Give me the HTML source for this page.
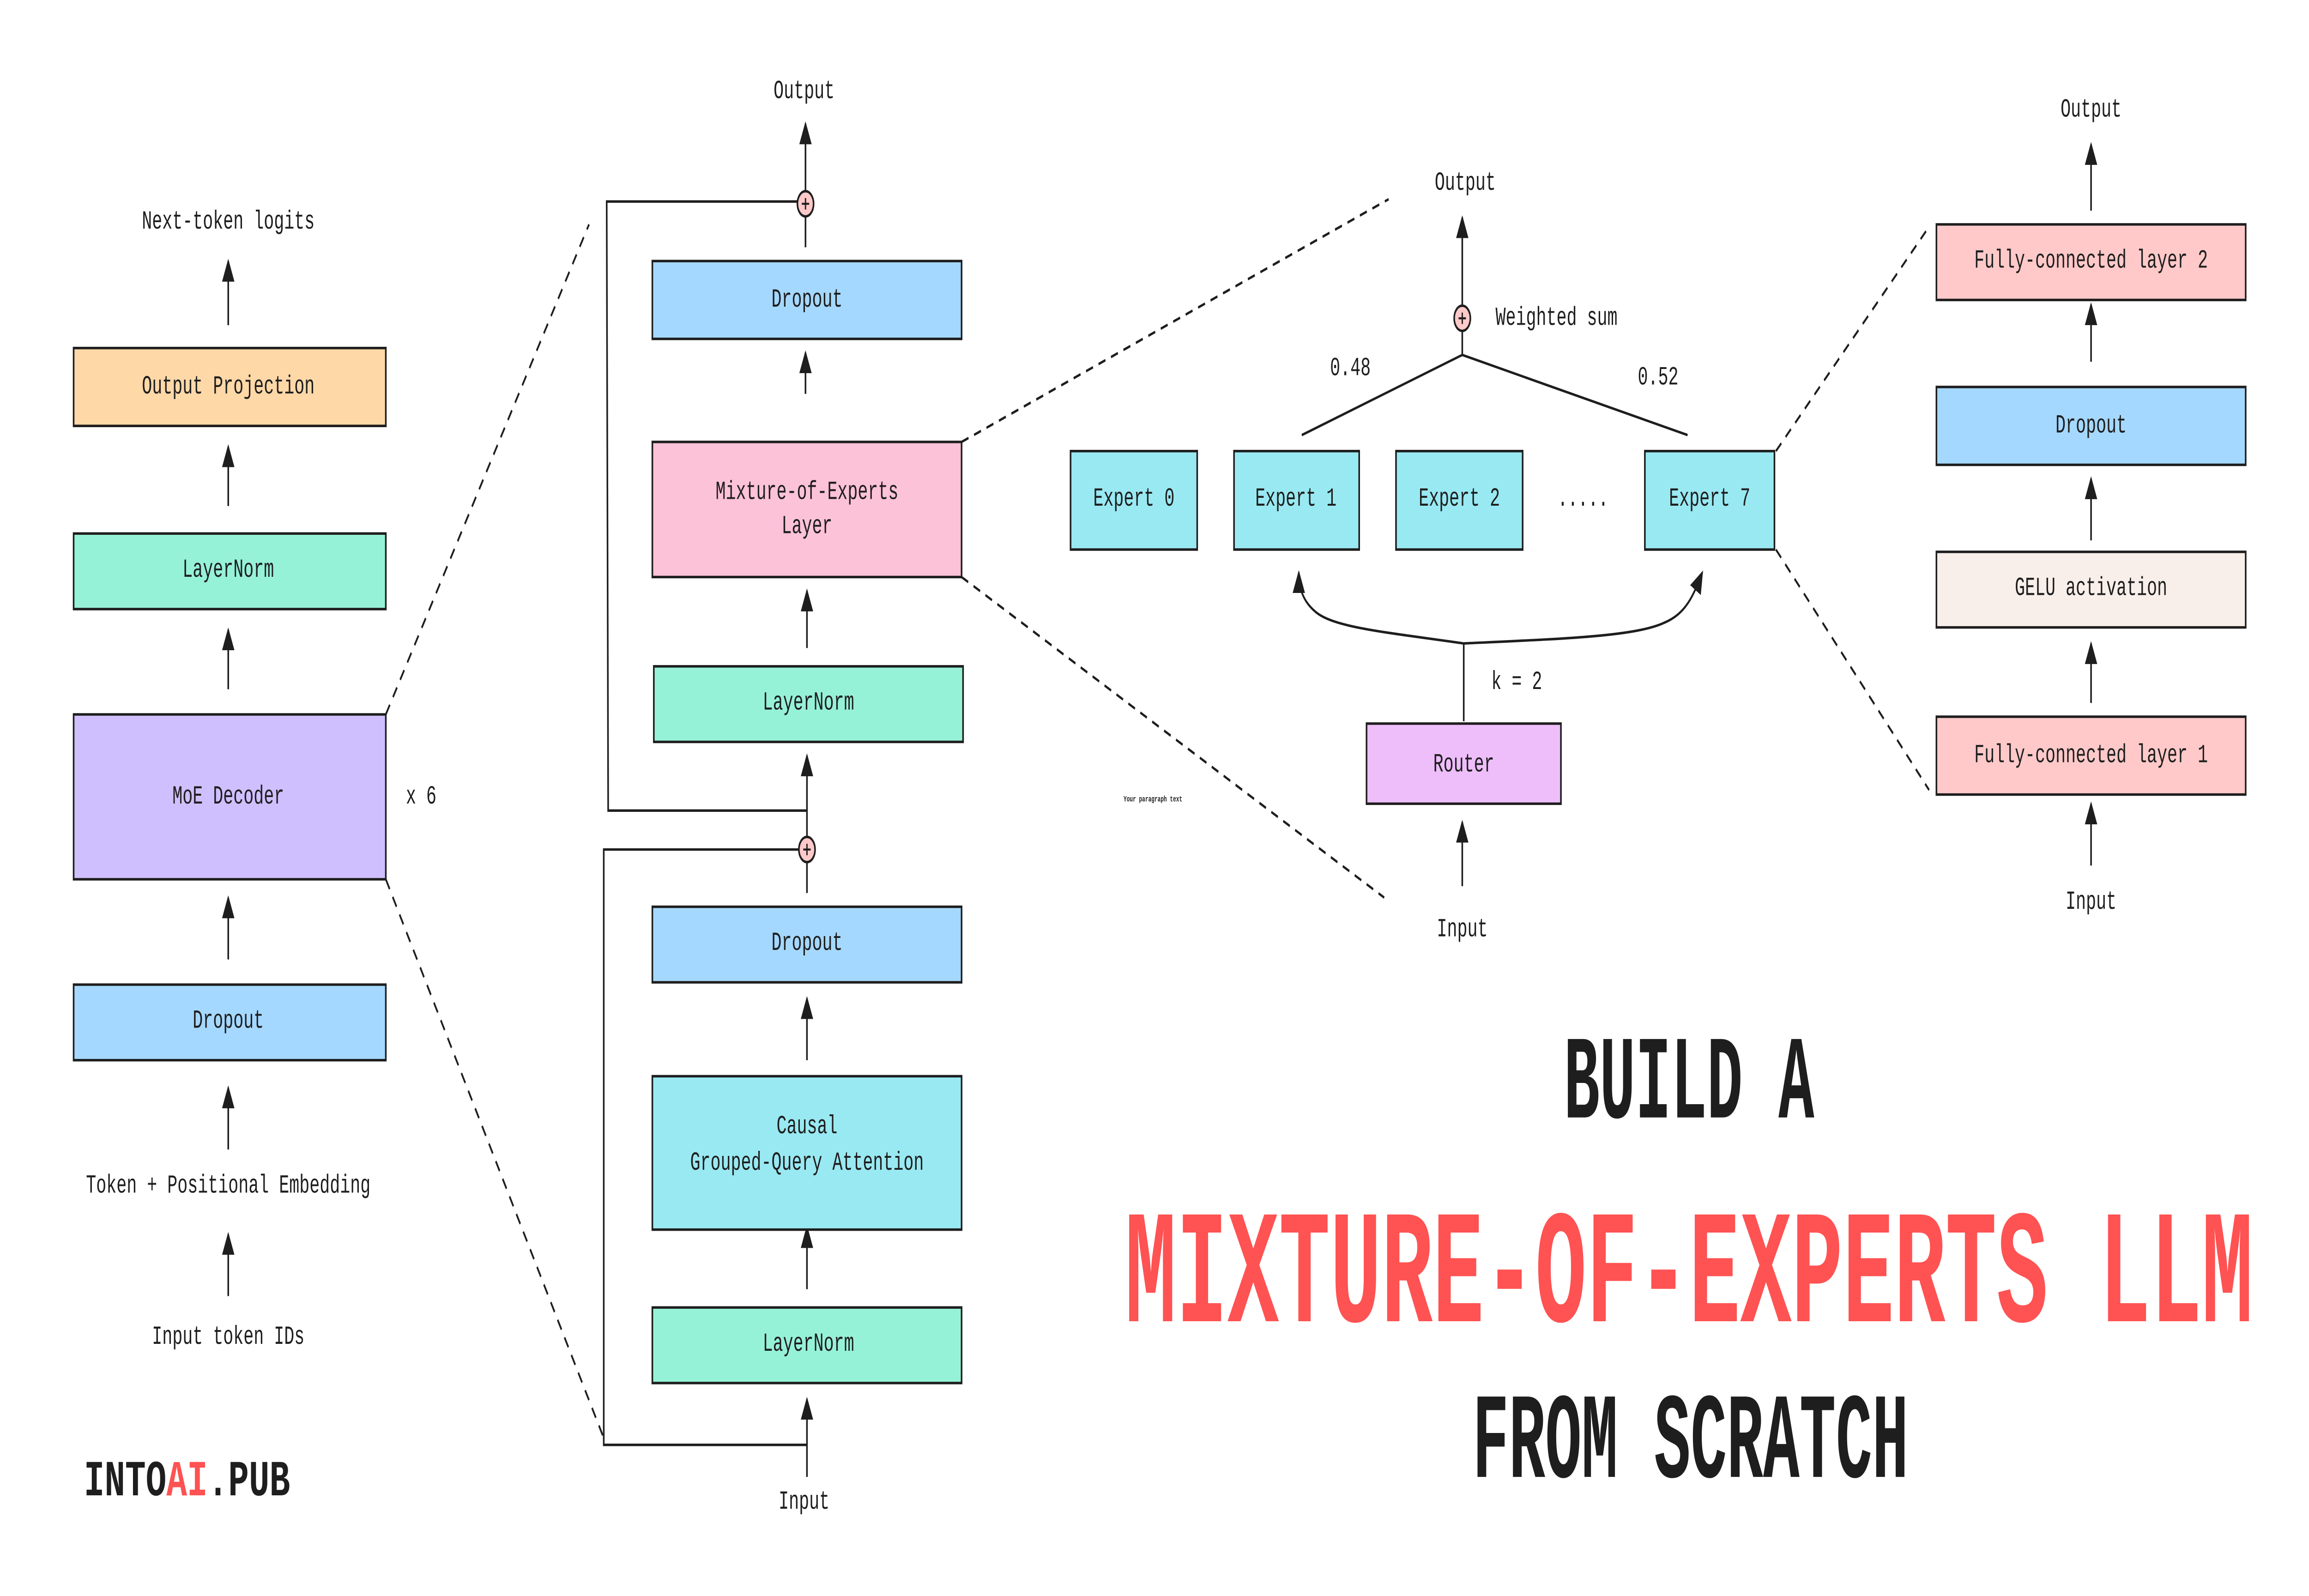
<!DOCTYPE html>
<html><head><meta charset="utf-8"><style>
html,body{margin:0;padding:0;background:#fff;width:100vw;height:100vh;overflow:hidden;}
svg{display:block;width:100vw;height:100vh;}
text{font-family:"Liberation Mono","DejaVu Sans Mono",monospace;fill:#1e1e1e;}
</style></head><body>
<svg viewBox="0 0 1568 697" preserveAspectRatio="none" xmlns="http://www.w3.org/2000/svg">
<defs>
<marker id="ah" markerUnits="userSpaceOnUse" markerWidth="10" markerHeight="10" viewBox="0 0 10 10" refX="9" refY="5" orient="auto">
<path d="M0,0.8 L10,5 L0,9.2 Z" fill="#1e1e1e"/>
</marker>
</defs>
<rect width="1568" height="697" fill="#fff"/>
<g stroke="#1e1e1e" stroke-width="1.1" fill="none">
<line x1="155" y1="142" x2="155" y2="114" marker-end="url(#ah)"/>
<line x1="155" y1="221" x2="155" y2="195" marker-end="url(#ah)"/>
<line x1="155" y1="301" x2="155" y2="275" marker-end="url(#ah)"/>
<line x1="155" y1="419" x2="155" y2="392" marker-end="url(#ah)"/>
<line x1="155" y1="502" x2="155" y2="475" marker-end="url(#ah)"/>
<line x1="155" y1="566" x2="155" y2="539" marker-end="url(#ah)"/>
<g stroke-dasharray="5,4">
<line x1="262" y1="312" x2="400" y2="98"/>
<line x1="262" y1="384" x2="410" y2="628"/>
<line x1="653" y1="193" x2="943" y2="87"/>
<line x1="653" y1="252" x2="940" y2="392"/>
<line x1="1206" y1="197" x2="1310" y2="99"/>
<line x1="1206" y1="240" x2="1310" y2="345"/>
</g>
<line x1="547" y1="84" x2="547" y2="54" marker-end="url(#ah)"/>
<line x1="547" y1="94" x2="547" y2="108"/>
<line x1="547" y1="172" x2="547" y2="154" marker-end="url(#ah)"/>
<line x1="548" y1="283" x2="548" y2="258" marker-end="url(#ah)"/>
<line x1="548" y1="366" x2="548" y2="330" marker-end="url(#ah)"/>
<polyline points="542,88 412,88 413,354 548,354"/>
<line x1="548" y1="463" x2="548" y2="436" marker-end="url(#ah)"/>
<line x1="548" y1="563" x2="548" y2="536" marker-end="url(#ah)"/>
<line x1="548" y1="645" x2="548" y2="611" marker-end="url(#ah)"/>
<polyline points="543,371 410,371 410,631 548,631"/>
<line x1="548" y1="376" x2="548" y2="390"/>
<line x1="993" y1="134" x2="993" y2="95" marker-end="url(#ah)"/>
<polyline points="884,190 993,155 1146,190"/>
<line x1="993" y1="144" x2="993" y2="155"/>
<line x1="993" y1="387" x2="993" y2="359" marker-end="url(#ah)"/>
<line x1="994" y1="315" x2="994" y2="281"/>
<path d="M994,281 C940,276 905,274 893,267 C884,262 882,256 882,250" marker-end="url(#ah)"/>
<path d="M994,281 C1060,279 1110,278 1130,272 C1145,268 1150,260 1156,250" marker-end="url(#ah)"/>
<line x1="1420" y1="92" x2="1420" y2="63" marker-end="url(#ah)"/>
<line x1="1420" y1="158" x2="1420" y2="133" marker-end="url(#ah)"/>
<line x1="1420" y1="236" x2="1420" y2="209" marker-end="url(#ah)"/>
<line x1="1420" y1="307" x2="1420" y2="281" marker-end="url(#ah)"/>
<line x1="1420" y1="378" x2="1420" y2="351" marker-end="url(#ah)"/>
<rect x="50" y="152" width="212" height="34" fill="#ffd8a8"/>
<rect x="50" y="233" width="212" height="33" fill="#96f2d7"/>
<rect x="50" y="312" width="212" height="72" fill="#d0bfff"/>
<rect x="50" y="430" width="212" height="33" fill="#a5d8ff"/>
<rect x="443" y="114" width="210" height="34" fill="#a5d8ff"/>
<rect x="443" y="193" width="210" height="59" fill="#fcc2d7"/>
<rect x="444" y="291" width="210" height="33" fill="#96f2d7"/>
<rect x="443" y="396" width="210" height="33" fill="#a5d8ff"/>
<rect x="443" y="470" width="210" height="67" fill="#99e9f2"/>
<rect x="443" y="571" width="210" height="33" fill="#96f2d7"/>
<rect x="727" y="197" width="86" height="43" fill="#99e9f2"/>
<rect x="838" y="197" width="85" height="43" fill="#99e9f2"/>
<rect x="948" y="197" width="86" height="43" fill="#99e9f2"/>
<rect x="1117" y="197" width="88" height="43" fill="#99e9f2"/>
<rect x="928" y="316" width="132" height="35" fill="#eebefa"/>
<rect x="1315" y="98" width="210" height="33" fill="#ffc9c9"/>
<rect x="1315" y="169" width="210" height="34" fill="#a5d8ff"/>
<rect x="1315" y="241" width="210" height="33" fill="#f8efea"/>
<rect x="1315" y="313" width="210" height="34" fill="#ffc9c9"/>
<circle cx="547" cy="89" r="5.5" fill="#ffc9c9"/>
<circle cx="548" cy="371" r="5.5" fill="#ffc9c9"/>
<circle cx="993" cy="139" r="5.5" fill="#ffc9c9"/>
<g stroke-width="0.9">
<path d="M544.5,89 h5 M547,86.5 v5"/>
<path d="M545.5,371 h5 M548,368.5 v5"/>
<path d="M990.5,139 h5 M993,136.5 v5"/>
</g>
</g>
<g font-size="11.5" text-anchor="middle" dominant-baseline="central">
<text x="155" y="97">Next-token logits</text>
<text x="155" y="169">Output Projection</text>
<text x="155" y="249">LayerNorm</text>
<text x="155" y="348">MoE Decoder</text>
<text x="286" y="348">x 6</text>
<text x="155" y="446">Dropout</text>
<text x="155" y="518">Token + Positional Embedding</text>
<text x="155" y="584">Input token IDs</text>
<text x="546" y="40">Output</text>
<text x="548" y="131">Dropout</text>
<text x="548" y="215">Mixture-of-Experts</text>
<text x="548" y="230">Layer</text>
<text x="549" y="307">LayerNorm</text>
<text x="548" y="412">Dropout</text>
<text x="548" y="492">Causal</text>
<text x="548" y="508">Grouped-Query Attention</text>
<text x="549" y="587">LayerNorm</text>
<text x="546" y="656">Input</text>
<text x="995" y="80">Output</text>
<text x="1057" y="139">Weighted sum</text>
<text x="917" y="161">0.48</text>
<text x="1126" y="165">0.52</text>
<text x="770" y="218">Expert 0</text>
<text x="880" y="218">Expert 1</text>
<text x="991" y="218">Expert 2</text>
<text x="1075" y="218">.....</text>
<text x="1161" y="218">Expert 7</text>
<text x="1030" y="298">k = 2</text>
<text x="994" y="334">Router</text>
<text x="993" y="406">Input</text>
<text x="1420" y="48">Output</text>
<text x="1420" y="114">Fully-connected layer 2</text>
<text x="1420" y="186">Dropout</text>
<text x="1420" y="257">GELU activation</text>
<text x="1420" y="330">Fully-connected layer 1</text>
<text x="1420" y="394">Input</text>
</g>
<text x="763" y="350" font-size="3.5" font-family="Liberation Sans,sans-serif" font-weight="bold">Your paragraph text</text>
<text x="57" y="653" font-size="22" font-weight="bold" textLength="140" lengthAdjust="spacingAndGlyphs">INTO<tspan fill="#ff5252" style="fill:#ff5252">AI</tspan>.PUB</text>
<g font-weight="bold" text-anchor="middle">
<text transform="translate(1147,488) scale(1,1.3)" font-size="40" textLength="170" lengthAdjust="spacingAndGlyphs">BUILD A</text>
<text transform="translate(1147,577) scale(1,1.22)" font-size="58" style="fill:#ff5252" textLength="766" lengthAdjust="spacingAndGlyphs">MIXTURE-OF-EXPERTS LLM</text>
<text transform="translate(1148,645) scale(1,1.3)" font-size="41" textLength="296" lengthAdjust="spacingAndGlyphs">FROM SCRATCH</text>
</g>
</svg>
</body></html>
